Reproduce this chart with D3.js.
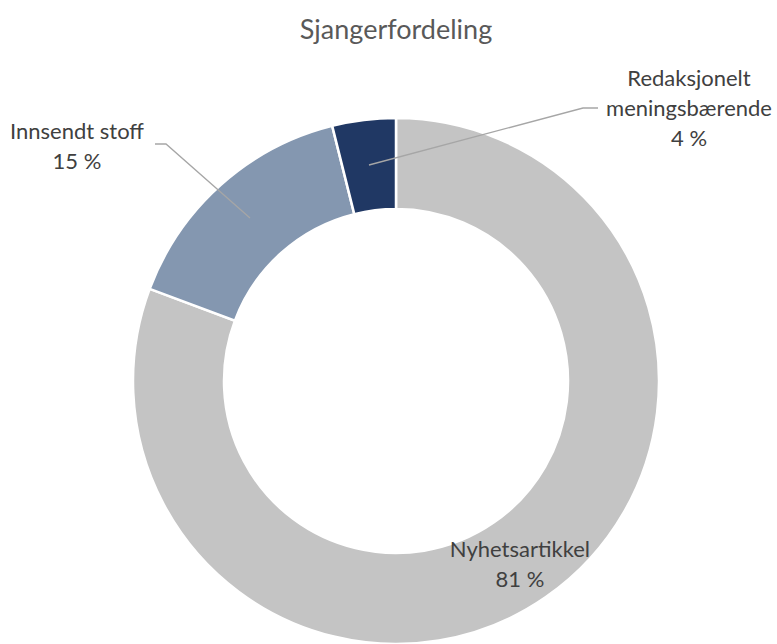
<!DOCTYPE html>
<html><head><meta charset="utf-8">
<script src="https://cdn.jsdelivr.net/npm/d3@7"></script>
<style>body{margin:0;background:#fff}svg{display:block}text{font-family:Lato,sans-serif;fill:#404040}</style>
</head><body><svg id="c" width="777" height="644"></svg>
<script>
const categories = ["Nyhetsartikkel", "Innsendt stoff", "Redaksjonelt meningsbærende"];
const values = [80.7, 15.4, 3.9];
const labelLines = [["Nyhetsartikkel"], ["Innsendt stoff"], ["Redaksjonelt", "meningsbærende"]];
const colors = ["#C4C4C4", "#8497B0", "#203864"];
const title = "Sjangerfordeling";

const svg = d3.select("#c");
const cx = 396, cy = 381, rOut = 263, rIn = 172;
svg.append("text").attr("x", 396).attr("y", 39).attr("text-anchor", "middle")
  .style("font-size", "27px").style("fill", "#595959").text(title);

const pie = d3.pie().sort(null).value(d => d)(values);
const arc = d3.arc().innerRadius(rIn).outerRadius(rOut);
const g = svg.append("g").attr("transform", `translate(${cx},${cy})`);
g.selectAll("path").data(pie).join("path").attr("d", arc)
  .attr("fill", (d, i) => colors[i]).attr("stroke", "#fff").attr("stroke-width", 2.5);

const total = d3.sum(values);
const pct = v => Math.round(v / total * 100) + " %";
const labelPos = [null, [77, 139], [689, 86]];
const elbow = [null, [[155, 144], [166, 144]], [[598, 108], [583, 108]]];
const lineCol = "#A6A6A6";
pie.forEach((d, i) => {
  const c = arc.centroid(d);
  let lx, ly;
  if (labelPos[i]) { lx = labelPos[i][0]; ly = labelPos[i][1]; }
  else { lx = cx + c[0]; ly = cy + c[1] - 3; }
  const lines = labelLines[i].concat([pct(values[i])]);
  const t = svg.append("text").attr("text-anchor", "middle").style("font-size", "22px");
  lines.forEach((s, k) => t.append("tspan").attr("x", lx).attr("y", ly + k * 30).text(s));
  if (elbow[i]) {
    const inner = i === 1 ? [250, 218] : [369, 165];
    const pts = [elbow[i][0], elbow[i][1], inner];
    svg.append("polyline").attr("points", pts.map(p => p.join(",")).join(" "))
      .attr("fill", "none").attr("stroke", lineCol).attr("stroke-width", 1.3);
  }
});
</script></body></html>
